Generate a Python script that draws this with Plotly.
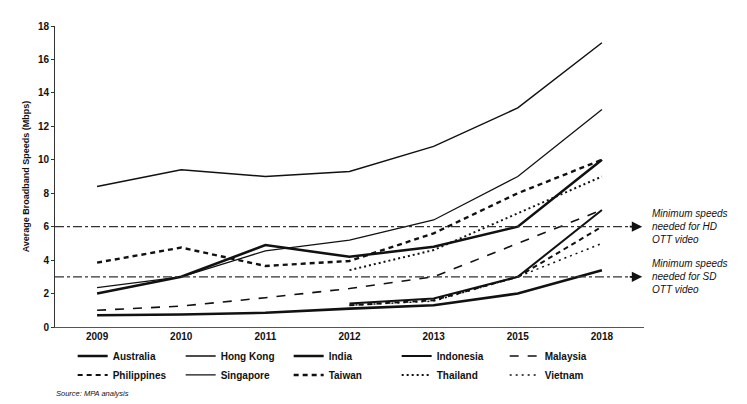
import plotly.graph_objects as go

years = ["2009", "2010", "2011", "2012", "2013", "2015", "2018"]

australia   = [2.0, 3.0, 4.9, 4.2, 4.8, 6.0, 10.0]
hong_kong   = [8.4, 9.4, 9.0, 9.3, 10.8, 13.1, 17.0]
india       = [0.7, 0.75, 0.85, 1.1, 1.3, 2.0, 3.4]
indonesia   = [None, None, None, 1.4, 1.7, 3.0, 7.0]
malaysia    = [1.0, 1.25, 1.75, 2.3, 3.0, 5.0, 7.0]
philippines = [None, None, None, 1.3, 1.6, 3.0, 6.0]
singapore   = [2.35, 3.0, 4.55, 5.2, 6.4, 9.0, 13.0]
taiwan      = [3.85, 4.75, 3.65, 3.95, 5.6, 8.0, 10.0]
thailand    = [None, None, None, 3.4, 4.6, 6.8, 9.0]
vietnam     = [None, None, None, 1.3, 1.55, 3.0, 5.0]

hd_min = 6.0
sd_min = 3.0
hd_label = "Minimum speeds<br>needed for HD<br>OTT video"
sd_label = "Minimum speeds<br>needed for SD<br>OTT video"

FONT = "Liberation Sans Narrow, Arial Narrow, Liberation Sans, sans-serif"
INK = "#111111"

series = [
    ("Australia", australia, dict(width=2.6, dash="solid")),
    ("Hong Kong", hong_kong, dict(width=1.5, dash="solid")),
    ("India", india, dict(width=2.6, dash="solid")),
    ("Indonesia", indonesia, dict(width=2.0, dash="solid")),
    ("Malaysia", malaysia, dict(width=1.6, dash="9px,9px")),
    ("Philippines", philippines, dict(width=2.0, dash="5px,4px")),
    ("Singapore", singapore, dict(width=1.3, dash="solid")),
    ("Taiwan", taiwan, dict(width=2.4, dash="5px,4px")),
    ("Thailand", thailand, dict(width=2.0, dash="2px,3px")),
    ("Vietnam", vietnam, dict(width=1.5, dash="2px,4px")),
]

fig = go.Figure()
for name, vals, style in series:
    fig.add_trace(go.Scatter(
        x=years, y=vals, name=name, mode="lines",
        line=dict(color=INK, **style), connectgaps=False,
    ))

# reference lines
for val in (hd_min, sd_min):
    fig.add_shape(type="line", xref="paper", yref="y", x0=0, x1=0.985,
                  y0=val, y1=val, line=dict(color="#333333", width=1.2, dash="dashdot"))
    fig.add_annotation(xref="paper", yref="y", x=0.997, y=val, ax=-14, ay=0,
                       axref="pixel", ayref="pixel", showarrow=True, arrowhead=2,
                       arrowsize=1.3, arrowwidth=1.6, arrowcolor=INK, text="")

for val, label in ((hd_min, hd_label), (sd_min, sd_label)):
    fig.add_annotation(xref="paper", yref="y", x=1.010, y=val, xanchor="left",
                       yanchor="middle", showarrow=False, align="left", text=label,
                       font=dict(family=FONT, size=10, color=INK, style="italic"))

fig.add_annotation(xref="paper", yref="paper", x=-0.002, y=-0.222, xanchor="left",
                   yanchor="middle", showarrow=False, text="Source: MPA analysis",
                   font=dict(family=FONT, size=7.5, color=INK, style="italic"))

fig.update_layout(
    width=747, height=404,
    margin=dict(l=47, r=111, t=18, b=85),
    paper_bgcolor="white", plot_bgcolor="white",
    font=dict(family=FONT, color=INK, size=10),
    showlegend=True,
    legend=dict(orientation="h", x=0.030, y=-0.048, xanchor="left", yanchor="top",
                entrywidth=63, itemwidth=30, tracegroupgap=0,
                font=dict(family=FONT, size=10, color=INK, weight="bold"),
                bgcolor="rgba(0,0,0,0)"),
)
fig.update_xaxes(type="category", range=[-0.5, 6.5], showgrid=False, zeroline=False,
                 showline=True, linecolor="#555555", linewidth=1,
                 ticks="", tickfont=dict(family=FONT, size=10, color=INK, weight="bold"))
fig.update_yaxes(range=[0, 18], dtick=2, showgrid=False, zeroline=False,
                 showline=True, linecolor="#333333", linewidth=1,
                 ticks="outside", ticklen=3, tickcolor="#333333",
                 tickfont=dict(family=FONT, size=10, color=INK, weight="bold"),
                 title=dict(text="Average Broadband Speeds (Mbps)", standoff=6,
                            font=dict(family=FONT, size=9, color=INK, weight="bold")))

fig.write_html("out.html")
